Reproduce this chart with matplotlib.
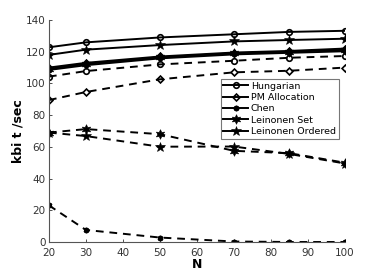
import matplotlib
matplotlib.use("Agg")
import matplotlib.pyplot as plt

N = [20, 30, 50, 70, 85, 100]

# solid (scenario A)
hungarian_a = [122.8, 125.9, 129.0, 131.0, 132.5, 133.2]
pm_a = [110.0, 113.0, 117.0, 119.5, 120.5, 122.0]
chen_a = [108.5, 111.5, 115.8, 118.3, 119.3, 120.3]
lset_a = [109.2, 112.3, 116.5, 119.0, 120.0, 121.2]
lord_a = [118.0, 121.3, 124.2, 126.5, 127.4, 128.2]

# dashed (scenario B)
hungarian_b = [104.3, 107.8, 112.0, 114.3, 116.2, 117.3]
pm_b = [89.5, 94.6, 102.6, 107.0, 108.0, 110.0]
chen_b = [23.1, 7.6, 2.8, 0.3, 0.0, 0.0]
lset_b = [69.0, 71.2, 68.0, 57.5, 56.0, 50.0]
lord_b = [69.0, 66.8, 60.1, 60.2, 55.5, 49.5]

labels = ["Hungarian", "PM Allocation", "Chen", "Leinonen Set", "Leinonen Ordered"]
xticks = [20, 30, 40, 50, 60, 70, 80, 90, 100]
yticks = [0, 20, 40, 60, 80, 100, 120, 140]

fig = plt.figure(figsize=(3.82, 2.73), dpi=100)
ax = fig.add_axes([0.128, 0.1136, 0.775, 0.8131])

styles = [
    dict(marker="o", ms=4, mfc="none", mew=1.2),
    dict(marker="D", ms=3.5, mfc="none", mew=1.2),
    dict(marker=(6, 2, 0), ms=4, mew=1.3),
    dict(marker=(6, 1, 0), ms=7, mew=0.4),
    dict(marker="*", ms=7.5, mew=0.4),
]

solid = [hungarian_a, pm_a, chen_a, lset_a, lord_a]
dashed = [hungarian_b, pm_b, chen_b, lset_b, lord_b]

for lab, ys, st in zip(labels, solid, styles):
    ax.plot(N, ys, color="black", lw=1.4, ls="-", label=lab, **st)
for ys, st in zip(dashed, styles):
    ax.plot(N, ys, color="black", lw=1.4, ls=(0, (4, 3)), **st)

ax.set_xlim(20, 100)
ax.set_ylim(0, 140)
ax.set_xticks(xticks)
ax.set_yticks(yticks)
ax.tick_params(direction="in", length=2.5, width=0.6, labelsize=7.5,
               colors="#333333")
ax.tick_params(axis="x", pad=4)
ax.tick_params(axis="y", pad=2.5)
for s in ["top", "right"]:
    ax.spines[s].set_visible(False)
for s in ["left", "bottom"]:
    ax.spines[s].set_color("#555555")
    ax.spines[s].set_linewidth(0.8)

ax.set_xlabel("N", fontsize=9, fontweight="bold", labelpad=0.5)
ax.set_ylabel("kbi t /sec", fontsize=9, fontweight="bold", labelpad=1)

leg = ax.legend(loc="upper left", bbox_to_anchor=(0.58, 0.735), fontsize=6.8,
                frameon=True, fancybox=False, edgecolor="#555555",
                borderpad=0.3, labelspacing=0.25, handlelength=2.6,
                handletextpad=0.3, borderaxespad=0)
leg.get_frame().set_linewidth(0.8)

fig.savefig("out.png", dpi=100)
